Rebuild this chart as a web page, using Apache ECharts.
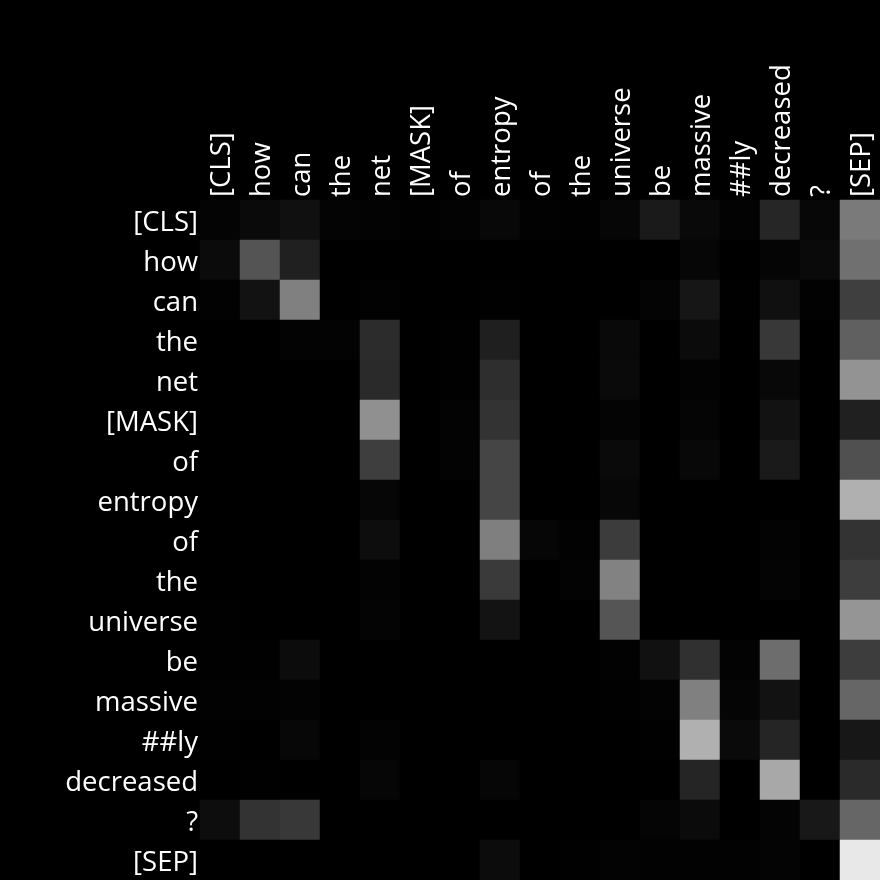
<!DOCTYPE html>
<html>
<head>
<meta charset="utf-8">
<script src="https://cdn.jsdelivr.net/npm/echarts@6/dist/echarts.min.js"></script>
<style>
html,body{margin:0;padding:0;background:#000;}
#chart{width:880px;height:880px;}
</style>
</head>
<body>
<div id="chart"></div>
<script>
const tokens = ['[CLS]','how','can','the','net','[MASK]','of','entropy','of','the','universe','be','massive','##ly','decreased','?','[SEP]'];

const rowCLS      = [.016,.039,.063,.016,.012,.004,.012,.031,.008,.004,.024,.102,.035,.012,.149,.027,.478];
const rowHow      = [.043,.329,.125,0,0,0,0,0,0,0,0,0,.024,0,.02,.039,.439];
const rowCan      = [.008,.071,.502,0,.008,0,0,.004,0,0,0,.016,.086,.004,.063,.008,.247];
const rowThe1     = [0,0,.012,.012,.173,0,.004,.122,0,0,.035,0,.043,0,.22,0,.376];
const rowNet      = [0,0,0,0,.165,0,.004,.18,0,0,.039,0,.012,0,.031,0,.576];
const rowMask     = [0,0,0,0,.565,0,.012,.2,0,0,.016,0,.02,0,.071,0,.125];
const rowOf1      = [0,0,0,0,.243,0,.012,.271,0,0,.039,0,.031,0,.102,0,.314];
const rowEntropy  = [0,0,0,0,.024,0,0,.271,0,0,.027,0,0,0,0,0,.69];
const rowOf2      = [0,0,0,0,.051,0,0,.498,.024,.008,.235,0,0,0,.012,0,.2];
const rowThe2     = [0,0,0,0,.012,0,0,.227,0,.012,.51,0,0,0,.016,0,.239];
const rowUniverse = [.004,0,0,0,.016,0,0,.075,0,0,.333,0,0,0,0,0,.584];
const rowBe       = [.004,.004,.047,0,0,0,0,0,0,0,.008,.067,.188,.012,.427,0,.239];
const rowMassive  = [.008,.008,.012,0,0,0,0,0,0,0,.004,.012,.502,.02,.071,0,.4];
const rowLy       = [.004,0,.027,0,.012,0,0,0,0,0,0,.004,.69,.039,.145,0,.09];
const rowDecr     = [0,.004,0,0,.024,0,0,.024,0,0,0,0,.145,0,.659,0,.165];
const rowQ        = [.051,.2,.22,0,0,0,0,0,0,0,0,.02,.043,0,.016,.094,.4];
const rowSEP      = [0,0,0,0,0,0,0,.047,0,.004,.012,.008,.008,.008,.016,0,.91];

const rows = [rowCLS,rowHow,rowCan,rowThe1,rowNet,rowMask,rowOf1,rowEntropy,rowOf2,rowThe2,rowUniverse,rowBe,rowMassive,rowLy,rowDecr,rowQ,rowSEP];

const data = [];
rows.forEach((r, y) => r.forEach((v, x) => data.push([x, y, v])));

const chart = echarts.init(document.getElementById('chart'), null, {renderer: 'canvas'});
const font = {color: '#ffffff', fontFamily: 'Open Sans', fontSize: 27.5};
function richLabel(extra, pad) {
  return Object.assign({
    interval: 0,
    formatter: v => '{t|' + v + '}',
    rich: {t: Object.assign({padding: pad}, font)}
  }, font, extra);
}
chart.setOption({
  backgroundColor: '#000000',
  animation: false,
  grid: {left: 200, top: 200, right: 0, bottom: 0},
  xAxis: {
    type: 'category', data: tokens, position: 'top',
    axisLine: {show: false}, axisTick: {show: false}, splitLine: {show: false},
    axisLabel: richLabel({rotate: -90, margin: 3}, [4, 0, 0, 0])
  },
  yAxis: {
    type: 'category', data: tokens, inverse: true,
    axisLine: {show: false}, axisTick: {show: false}, splitLine: {show: false},
    axisLabel: richLabel({margin: 2}, [6, 0, 0, 0])
  },
  visualMap: {show: false, min: 0, max: 1, inRange: {color: ['#000000', '#ffffff']}},
  series: [{type: 'heatmap', data: data, itemStyle: {borderWidth: 0}, emphasis: {disabled: true}}]
});
</script>
</body>
</html>
